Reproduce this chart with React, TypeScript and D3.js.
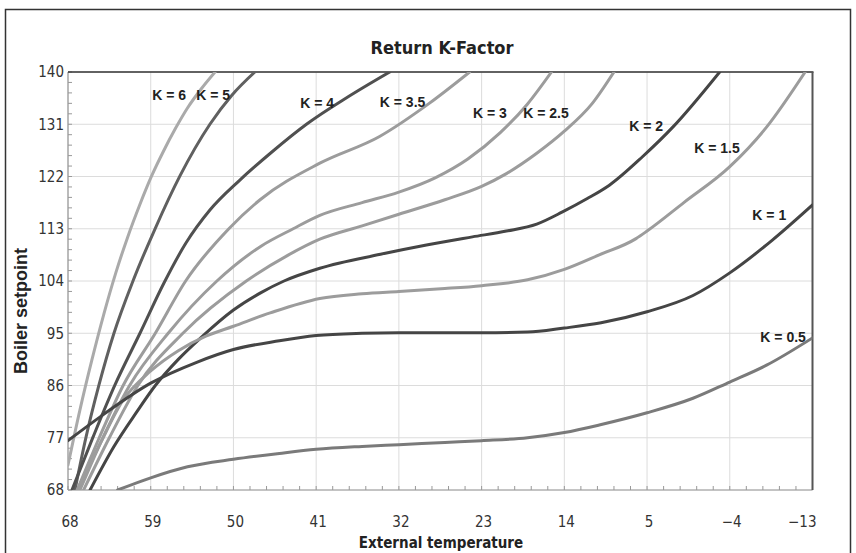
import React from 'react';
import * as d3 from 'd3';

const title = 'Return K-Factor';
const xAxisTitle = 'External temperature';
const yAxisTitle = 'Boiler setpoint';

const xTicks = [68, 59, 50, 41, 32, 23, 14, 5, -4, -13];
const yTicks = [68, 77, 86, 95, 104, 113, 122, 131, 140];

const k6 = [[68, 72.3], [66.7, 81.8], [65.4, 90.4], [64.1, 98.3], [62.8, 105.4], [61.5, 111.6], [60.2, 117.1], [58.9, 122.1], [57.6, 126.4], [56.3, 130.3], [55.0, 133.8], [53.6, 136.9], [52.0, 140]];
const k5 = [[67.24, 68], [66.04, 77.1], [64.63, 86.1], [63.0, 95.0], [60.93, 104.0], [58.54, 112.95], [55.82, 122.1], [52.56, 131.0], [50.17, 136.0], [47.67, 140]];
const k4 = [[67.57, 68], [65.28, 77.1], [62.89, 86.1], [60.17, 95.0], [57.56, 103.65], [55.17, 110.54], [52.56, 116.23], [49.3, 121.39], [45.82, 126.22], [42.02, 131.04], [37.56, 135.69], [33.0, 140]];
const k35 = [[67, 68], [64.6, 77], [62, 86], [58.5, 95], [55.2, 104], [50.5, 113], [47.1, 118], [40.6, 124.3], [34.1, 128.9], [28.7, 134.6], [24.3, 140]];
const k3 = [[66.7, 68], [64.2, 77], [61.3, 86], [57.1, 95], [51.8, 104], [47, 110], [43.5, 113], [40.6, 115.3], [36, 117.5], [32, 119.3], [28, 121.8], [24.5, 125], [21, 129.5], [18, 134.5], [15.4, 140]];
const k25 = [[66.3, 68], [63.5, 77], [60.4, 86], [55.5, 95], [48.6, 104], [44, 108.5], [40.6, 111.2], [36, 113.5], [32, 115.5], [27, 118], [23, 120.3], [20.3, 122.5], [17, 126], [14, 129.8], [11, 134.5], [8.6, 140]];
const k2 = [[65.6, 68], [63, 75.5], [60.5, 81.5], [58.5, 86], [56, 90.5], [53.5, 94.3], [50, 99], [47, 102], [44.5, 104], [40.6, 106.2], [34, 108.6], [29, 110.2], [24, 111.6], [20.3, 112.6], [17, 113.8], [14.2, 115.9], [11.5, 118.2], [9.1, 120.5], [5.5, 125.4], [2.2, 130.5], [-2.9, 140]];
const k15 = [[67, 68], [64.5, 76], [62, 83.5], [59, 88.5], [56, 92], [53, 94.5], [50, 96.2], [46, 98.5], [40.6, 101], [36, 101.8], [32, 102.2], [27, 102.7], [23, 103.2], [18, 104.2], [14, 106], [10.2, 108.5], [6.2, 111.3], [5, 112.6], [1, 117.5], [-4, 123.7], [-8, 130.5], [-12.2, 140]];
const k1 = [[68, 76.5], [64.5, 80.6], [59, 86.4], [54, 90], [50, 92.2], [45, 93.7], [41, 94.6], [36, 95], [32, 95.1], [23, 95.1], [18, 95.2], [14, 95.9], [10, 96.8], [5, 98.7], [0, 101.5], [-4, 105.4], [-8.6, 111], [-13, 117.1]];
const k05 = [[62.6, 68], [59, 70.1], [55, 72], [50, 73.3], [45, 74.3], [41, 75], [36, 75.5], [32, 75.8], [27, 76.2], [23, 76.5], [18, 77], [14, 77.9], [10.2, 79.2], [5, 81.3], [0, 83.8], [-4, 86.6], [-8, 89.5], [-13, 94.2]];

const seriesNames = ['K = 6', 'K = 5', 'K = 4', 'K = 3.5', 'K = 3', 'K = 2.5', 'K = 2', 'K = 1.5', 'K = 1', 'K = 0.5'];
const seriesData = [k6, k5, k4, k35, k3, k25, k2, k15, k1, k05];
const seriesColors = ['#aaaaaa', '#606060', '#505050', '#9c9c9c', '#9c9c9c', '#9c9c9c', '#454545', '#9c9c9c', '#454545', '#7a7a7a'];
// label anchor in data units (temperature, setpoint)
const labelT = [57.0, 52.2, 40.9, 31.6, 22.1, 16.0, 5.1, -2.6, -8.3, -9.8];
const labelV = [136.0, 136.0, 134.6, 134.9, 133.0, 132.9, 130.6, 126.9, 115.4, 94.4];

const W = 856;
const H = 553;
const M = { left: 68, right: 812.5, top: 72, bottom: 490 };

export default function App() {
  const x = d3.scaleLinear().domain([68, -13]).range([M.left, M.right]);
  const y = d3.scaleLinear().domain([68, 140]).range([M.bottom, M.top]);
  const line = d3
    .line<number[]>()
    .x((d) => x(d[0]))
    .y((d) => y(d[1]))
    .curve(d3.curveMonotoneX);

  const minorX = d3.range(68, -13.01, -1.8);
  const minorY = d3.range(68, 140.01, 1.8);

  const narrow = "'Liberation Sans Narrow', 'Arial Narrow', 'DejaVu Sans Condensed', sans-serif";
  const sans = "'Liberation Sans', Arial, sans-serif";

  return (
    <svg width={W} height={H} style={{ position: 'absolute', left: 0, top: 0, background: '#fff' }}>
      <defs>
        <clipPath id="plot">
          <rect x={M.left} y={M.top} width={M.right - M.left} height={M.bottom - M.top} />
        </clipPath>
      </defs>
      <rect x={5.5} y={9.5} width={845} height={560} fill="#fff" stroke="#333" strokeWidth={1.5} />
      <text x={442} y={54} textAnchor="middle" fontFamily={narrow} fontWeight="bold" fontSize={18} fill="#222">
        {title}
      </text>
      {/* grid */}
      {xTicks.map((t) => (
        <line key={'gx' + t} x1={x(t)} x2={x(t)} y1={M.top} y2={M.bottom} stroke="#dcdcdc" strokeWidth={1} />
      ))}
      {yTicks.map((t) => (
        <line key={'gy' + t} x1={M.left} x2={M.right} y1={y(t)} y2={y(t)} stroke="#dcdcdc" strokeWidth={1} />
      ))}
      {/* minor ticks */}
      {minorX.map((t, i) => (
        <line key={'mx' + i} x1={x(t)} x2={x(t)} y1={M.bottom} y2={M.bottom - 4} stroke="#999" strokeWidth={1} />
      ))}
      {minorY.map((t, i) => (
        <line key={'my' + i} x1={M.left} x2={M.left + 4} y1={y(t)} y2={y(t)} stroke="#999" strokeWidth={1} />
      ))}
      {/* axes and borders */}
      <line x1={M.left} x2={M.left} y1={M.top} y2={M.bottom} stroke="#999" strokeWidth={1.2} />
      <line x1={M.left} x2={M.right} y1={M.bottom} y2={M.bottom} stroke="#999" strokeWidth={1.2} />
      <line x1={M.left} x2={M.right + 1} y1={M.top} y2={M.top} stroke="#333" strokeWidth={1.5} />
      <line x1={M.right} x2={M.right} y1={M.top} y2={M.bottom} stroke="#555" strokeWidth={2} />
      {/* curves */}
      <g clipPath="url(#plot)">
        {seriesData.map((s, i) => (
          <path key={'s' + i} d={line(s) || ''} fill="none" stroke={seriesColors[i]} strokeWidth={3} strokeLinecap="round" />
        ))}
      </g>
      {/* labels */}
      {seriesNames.map((n, i) => (
        <text key={'l' + i} x={x(labelT[i])} y={y(labelV[i])} dy="0.35em" textAnchor="middle" fontFamily={sans} fontWeight="bold" fontSize={14} fill="#222">
          {n}
        </text>
      ))}
      {/* tick labels */}
      {yTicks.map((t) => (
        <text key={'ty' + t} x={M.left - 4} y={y(t)} dy="0.35em" textAnchor="end" fontFamily={narrow} fontSize={15} fill="#333">
          {t}
        </text>
      ))}
      {xTicks.map((t, i) => (
        <text
          key={'tx' + t}
          x={i === xTicks.length - 1 ? x(t) + 4 : x(t) + 2}
          y={522}
          dy="0.35em"
          textAnchor={i === xTicks.length - 1 ? 'end' : 'middle'}
          fontFamily={narrow}
          fontSize={15}
          fill="#333"
        >
          {t < 0 ? '\u2212' + Math.abs(t) : t}
        </text>
      ))}
      <text x={441} y={543} dy="0.35em" textAnchor="middle" fontFamily={narrow} fontWeight="bold" fontSize={15} fill="#222">
        {xAxisTitle}
      </text>
      <text
        transform={`translate(21,${(M.top + M.bottom) / 2 + 30}) rotate(-90)`}
        dy="0.35em"
        textAnchor="middle"
        fontFamily={sans}
        fontWeight="bold"
        fontSize={18}
        fill="#222"
      >
        {yAxisTitle}
      </text>
    </svg>
  );
}
